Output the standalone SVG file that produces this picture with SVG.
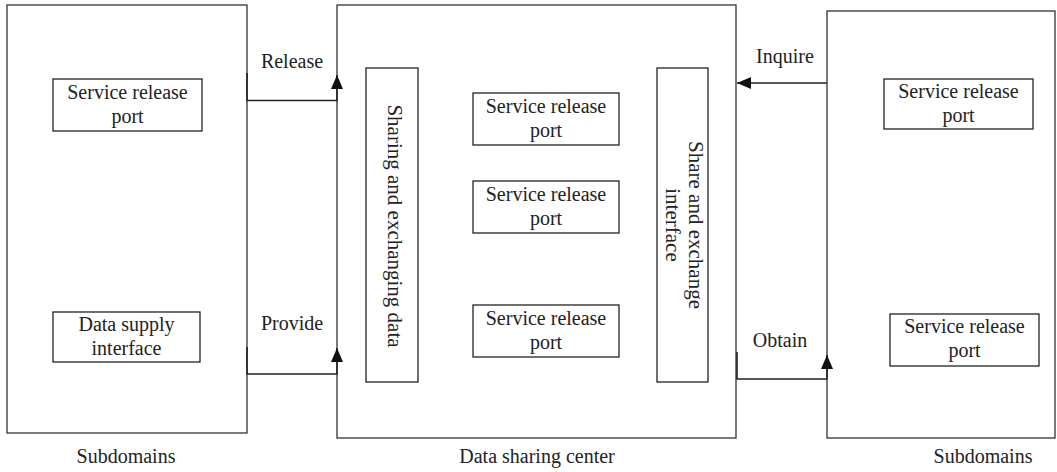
<svg xmlns="http://www.w3.org/2000/svg" width="1057" height="472" viewBox="0 0 1057 472">
<style>
.box{fill:#fff;stroke:#333;stroke-width:1.3}
.sbox{fill:#fff;stroke:#222;stroke-width:1.3}
.t{font-family:"Liberation Serif","Times New Roman",serif;font-size:20px;fill:#222;text-anchor:middle}
.v{font-size:21px}
.c{fill:none;stroke:#222;stroke-width:1.6}
</style>
<defs>
<marker id="ah" viewBox="0 0 14 12" refX="14" refY="6" markerWidth="14" markerHeight="12" markerUnits="userSpaceOnUse" orient="auto">
<path d="M0,0 L14,6 L0,12 Z" fill="#111"/>
</marker>
</defs>
<rect width="1057" height="472" fill="#fff"/>
<g id="left">
<rect class="box" x="7" y="5" width="240" height="428"/>
<text class="t" x="126" y="463">Subdomains</text>
</g>
<g id="center">
<rect class="box" x="337" y="5" width="399" height="433"/>
<text class="t" x="537" y="463">Data sharing center</text>
</g>
<g id="right">
<rect class="box" x="827" y="11" width="228" height="427"/>
<text class="t" x="983" y="463">Subdomains</text>
</g>
<g id="left-srp">
<rect class="sbox" x="53" y="79" width="149" height="52"/>
<text class="t" x="127.5" y="99">Service release</text>
<text class="t" x="127.5" y="123">port</text>
</g>
<g id="left-dsi">
<rect class="sbox" x="53" y="312" width="147" height="50"/>
<text class="t" x="126.5" y="331">Data supply</text>
<text class="t" x="126.5" y="355">interface</text>
</g>
<g id="sharing-data">
<rect class="sbox" x="366" y="68" width="52" height="314"/>
<text class="t v" transform="translate(388,226) rotate(90)">Sharing and exchanging data</text>
</g>
<g id="share-interface">
<rect class="sbox" x="657" y="68" width="51" height="314"/>
<text class="t v" transform="translate(689,225) rotate(90)">Share and exchange</text>
<text class="t v" transform="translate(666,225) rotate(90)">interface</text>
</g>
<g id="c-srp1">
<rect class="sbox" x="473" y="93" width="146" height="52"/>
<text class="t" x="546" y="113">Service release</text>
<text class="t" x="546" y="137">port</text>
</g>
<g id="c-srp2">
<rect class="sbox" x="473" y="181" width="146" height="52"/>
<text class="t" x="546" y="201">Service release</text>
<text class="t" x="546" y="225">port</text>
</g>
<g id="c-srp3">
<rect class="sbox" x="473" y="305" width="146" height="52"/>
<text class="t" x="546" y="325">Service release</text>
<text class="t" x="546" y="349">port</text>
</g>
<g id="r-srp1">
<rect class="sbox" x="884" y="79" width="149" height="50"/>
<text class="t" x="958.5" y="98">Service release</text>
<text class="t" x="958.5" y="122">port</text>
</g>
<g id="r-srp2">
<rect class="sbox" x="890" y="314" width="149" height="52"/>
<text class="t" x="964.5" y="333">Service release</text>
<text class="t" x="964.5" y="357">port</text>
</g>
<g id="connectors">
<path class="c" d="M247,73 V100.5 H337 V75" marker-end="url(#ah)"/>
<path class="c" d="M247,347 V374 H337 V348" marker-end="url(#ah)"/>
<path class="c" d="M827,83 H737" marker-end="url(#ah)"/>
<path class="c" d="M737,352 V379 H827 V355" marker-end="url(#ah)"/>
<text class="t" x="292" y="68">Release</text>
<text class="t" x="292" y="330">Provide</text>
<text class="t" x="785" y="63">Inquire</text>
<text class="t" x="780" y="347">Obtain</text>
</g>
</svg>
